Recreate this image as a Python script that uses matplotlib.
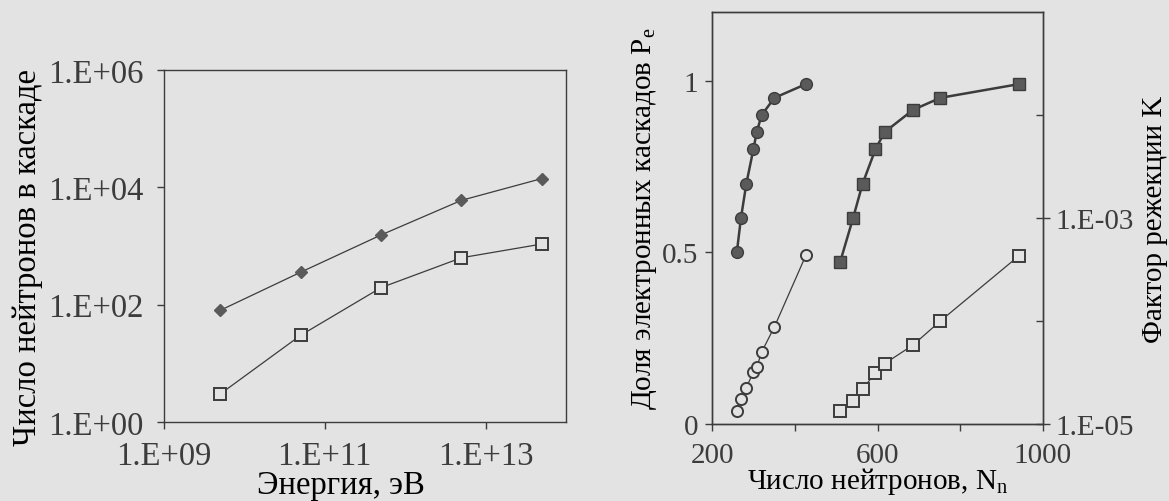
import matplotlib
matplotlib.use("Agg")
import matplotlib.pyplot as plt
from matplotlib.ticker import NullLocator, FixedLocator, NullFormatter

# left panel: neutrons in cascade vs energy
energy = [5e9, 5e10, 5e11, 5e12, 5e13]
n_filled = [80, 357, 1540, 6000, 14100]
n_open = [3, 30, 195, 630, 1080]

# right panel: fraction of electron cascades / rejection factor vs N_n
n_circ = [260, 270, 283, 300, 308, 320, 351, 427]
pe_circ = [0.50, 0.60, 0.70, 0.80, 0.85, 0.90, 0.95, 0.99]
k_circ = [1.35e-5, 1.73e-5, 2.25e-5, 3.2e-5, 3.55e-5, 5.0e-5, 8.8e-5, 4.35e-4]

n_sq = [510, 541, 564, 595, 617, 686, 752, 942]
pe_sq = [0.473, 0.60, 0.70, 0.80, 0.85, 0.915, 0.95, 0.99]
k_sq = [1.33e-5, 1.68e-5, 2.19e-5, 3.13e-5, 3.85e-5, 5.85e-5, 1.0e-4, 4.3e-4]

bg = '#e3e3e3'
ink = '#3c3c3c'
fill = '#5a5a5a'
fs_l = 23.5
fs_r = 21

plt.rcParams['font.family'] = ['Liberation Serif', 'DejaVu Serif']
plt.rcParams['mathtext.fontset'] = 'custom'
plt.rcParams['mathtext.rm'] = 'Liberation Serif'
plt.rcParams['text.color'] = ink
plt.rcParams['axes.edgecolor'] = ink
plt.rcParams['xtick.color'] = ink
plt.rcParams['ytick.color'] = ink
plt.rcParams['axes.linewidth'] = 1.0

fig = plt.figure(figsize=(11.69, 5.02), dpi=100, facecolor=bg)

# ---- left panel
ax = fig.add_axes([164/1169, 1-423/502, 402/1169, 352/502], facecolor=bg)
ax.set_xscale('log')
ax.set_yscale('log')
ax.plot(energy, n_filled, color=ink, lw=0.9, marker='D', ms=6.5,
        mfc=fill, mec=fill)
ax.plot(energy, n_open, color=ink, lw=0.9, marker='s', ms=8.5,
        mfc=bg, mec=ink, mew=1.4)
ax.set_xlim(1e9, 1e14)
ax.set_ylim(1, 1e6)
ax.xaxis.set_major_locator(FixedLocator([1e9, 1e11, 1e13]))
ax.set_xticklabels(['1.E+09', '1.E+11', '1.E+13'])
ax.yaxis.set_major_locator(FixedLocator([1, 1e2, 1e4, 1e6]))
ax.set_yticklabels(['1.E+00', '1.E+02', '1.E+04', '1.E+06'])
ax.xaxis.set_minor_locator(NullLocator())
ax.yaxis.set_minor_locator(NullLocator())
ax.tick_params(direction='out', length=5, width=1, labelsize=fs_l, pad=8)
ax.tick_params(axis='y', pad=10)
ax.set_xlabel('Энергия, эВ', fontsize=fs_l, labelpad=-2)
ax.xaxis.set_label_coords(0.44, -0.135)
ax.set_ylabel('Число нейтронов в каскаде', fontsize=fs_l)
ax.yaxis.set_label_coords(-0.30, 0.47)

# ---- right panel
ax1 = fig.add_axes([712/1169, 1-425/502, 331/1169, 412/502], facecolor=bg)
ax1.plot(n_circ, pe_circ, color=ink, lw=1.8, marker='o', ms=8.5,
         mfc=fill, mec=ink, zorder=3)
ax1.plot(n_sq, pe_sq, color=ink, lw=1.8, marker='s', ms=9,
         mfc=fill, mec=ink, zorder=3)
ax1.set_xlim(200, 1000)
ax1.set_ylim(0, 1.2)
ax1.set_xticks([200, 400, 600, 800, 1000])
ax1.set_xticklabels(['200', '', '600', '', '1000'])
ax1.set_yticks([0, 0.5, 1])
ax1.set_yticklabels(['0', '0.5', '1'])
ax1.tick_params(direction='out', length=5, width=1, labelsize=fs_r, pad=8)
ax1.tick_params(axis='y', pad=5)
ax1.set_xlabel('Число нейтронов, N$_\\mathrm{n}$', fontsize=fs_r, labelpad=-2)
ax1.set_ylabel('Доля электронных каскадов P$_\\mathrm{e}$', fontsize=fs_r,
               labelpad=2)

ax2 = ax1.twinx()
ax2.set_yscale('log')
ax2.plot(n_circ, k_circ, color=ink, lw=0.9, marker='o', ms=8,
         mfc=bg, mec=ink, mew=1.4)
ax2.plot(n_sq, k_sq, color=ink, lw=0.9, marker='s', ms=8.5,
         mfc=bg, mec=ink, mew=1.4)
ax2.set_ylim(1e-5, 1e-1)
ax2.yaxis.set_major_locator(FixedLocator([1e-5, 1e-3]))
ax2.set_yticklabels(['1.E-05', '1.E-03'])
ax2.yaxis.set_minor_locator(FixedLocator([1e-4, 1e-2]))
ax2.yaxis.set_minor_formatter(NullFormatter())
ax2.tick_params(axis='y', which='major', direction='inout', length=10,
                width=1, labelsize=fs_r, pad=4)
ax2.tick_params(axis='y', which='minor', direction='in', length=5, width=1)
ax2.set_ylabel('Фактор режекции K', fontsize=fs_r, labelpad=6)

fig.savefig('out.png', dpi=100, facecolor=bg)
